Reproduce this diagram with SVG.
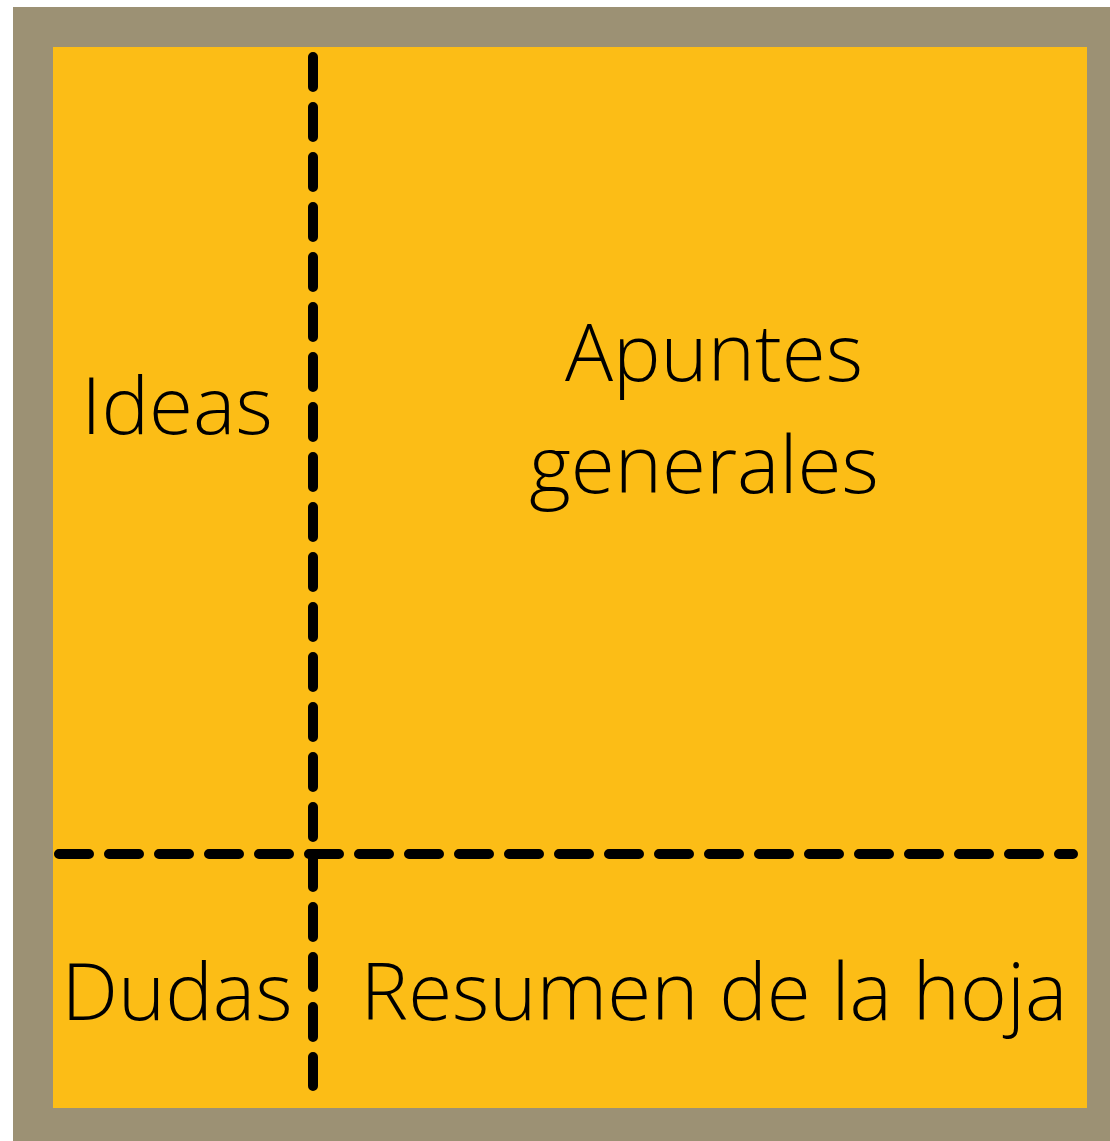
<svg xmlns="http://www.w3.org/2000/svg" width="1110" height="1141" viewBox="0 0 1110 1141">
<style>
.lbl{font-family:"Open Sans","Liberation Sans",sans-serif;font-weight:300;font-size:80px;fill:#000;text-anchor:middle}
.dash{stroke:#000;stroke-width:10;stroke-linecap:round;stroke-dasharray:30 20;fill:none}
</style>
<rect x="0" y="0" width="1110" height="1141" fill="#fff"/>
<g id="frame">
<rect x="13" y="7" width="1097" height="1134" fill="#9c9174"/>
<rect x="53" y="47" width="1034" height="1061" fill="#fcbd16"/>
</g>
<g id="connectors">
<line class="dash" x1="313" y1="57" x2="313" y2="1086"/>
<line class="dash" x1="59" y1="854" x2="1073" y2="854"/>
</g>
<g id="ideas"><text class="lbl" x="177" y="434">Ideas</text></g>
<g id="apuntes"><text class="lbl" x="714" y="381">Apuntes</text><text class="lbl" x="704" y="493">generales</text></g>
<g id="dudas"><text class="lbl" x="177" y="1020">Dudas</text></g>
<g id="resumen"><text class="lbl" x="714" y="1020">Resumen de la hoja</text></g>
</svg>
